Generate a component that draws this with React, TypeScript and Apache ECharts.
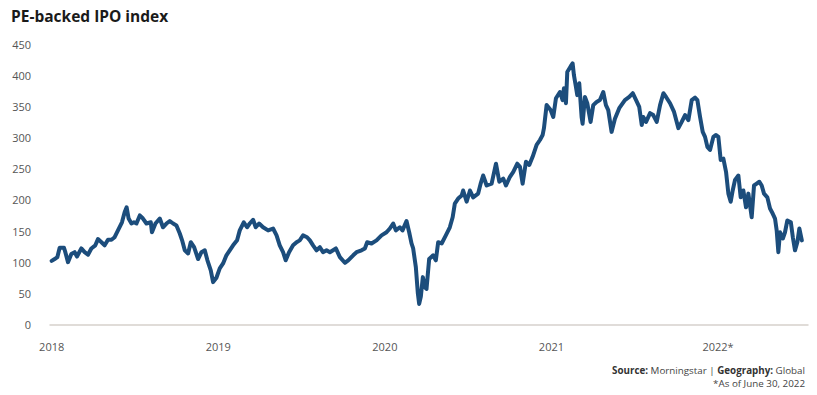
import React, { useEffect, useRef } from "react";
import * as echarts from "echarts";

// Decimal-year dates and index values
const t2018 = [2018.000, 2018.018, 2018.034, 2018.048, 2018.074, 2018.082, 2018.098, 2018.118, 2018.138, 2018.152, 2018.178, 2018.198, 2018.218, 2018.238, 2018.262, 2018.278, 2018.299, 2018.318, 2018.338, 2018.359, 2018.378, 2018.398, 2018.422, 2018.438, 2018.450, 2018.462, 2018.479, 2018.494, 2018.509, 2018.529, 2018.548, 2018.569, 2018.595, 2018.602, 2018.623, 2018.649, 2018.668, 2018.689, 2018.709, 2018.729, 2018.749, 2018.769, 2018.783, 2018.799, 2018.819, 2018.835, 2018.855, 2018.879, 2018.899, 2018.919, 2018.935, 2018.955, 2018.969, 2018.989];
const v2018 = [102, 105, 108, 123, 123, 116, 100, 113, 116, 109, 122, 116, 112, 122, 127, 137, 132, 127, 136, 136, 140, 151, 164, 180, 188, 170, 162, 164, 162, 175, 170, 162, 164, 148, 162, 170, 156, 162, 166, 162, 159, 146, 135, 119, 114, 132, 124, 105, 116, 119, 103, 87, 68, 75];

const t2019 = [2019.009, 2019.029, 2019.049, 2019.069, 2019.089, 2019.113, 2019.129, 2019.153, 2019.173, 2019.189, 2019.209, 2019.225, 2019.245, 2019.269, 2019.299, 2019.329, 2019.350, 2019.369, 2019.389, 2019.405, 2019.425, 2019.449, 2019.470, 2019.489, 2019.509, 2019.533, 2019.550, 2019.569, 2019.590, 2019.610, 2019.629, 2019.650, 2019.670, 2019.706, 2019.730, 2019.760, 2019.780, 2019.810, 2019.830, 2019.860, 2019.880, 2019.894, 2019.920, 2019.950, 2019.980];
const v2019 = [90, 98, 111, 119, 127, 135, 151, 164, 156, 162, 168, 156, 162, 156, 151, 154, 143, 127, 116, 103, 116, 127, 132, 135, 143, 140, 135, 127, 119, 124, 116, 119, 116, 122, 108, 99, 103, 111, 116, 119, 122, 132, 130, 135, 143];

const t2020 = [2020.010, 2020.030, 2020.050, 2020.066, 2020.090, 2020.106, 2020.130, 2020.146, 2020.160, 2020.170, 2020.186, 2020.198, 2020.206, 2020.216, 2020.228, 2020.240, 2020.250, 2020.266, 2020.290, 2020.306, 2020.320, 2020.341, 2020.366, 2020.390, 2020.407, 2020.420, 2020.440, 2020.461, 2020.470, 2020.491, 2020.511, 2020.530, 2020.560, 2020.575, 2020.590, 2020.611, 2020.641, 2020.667, 2020.687, 2020.711, 2020.727, 2020.751, 2020.771, 2020.795, 2020.811, 2020.827, 2020.847, 2020.867, 2020.887, 2020.911, 2020.931, 2020.947, 2020.955, 2020.971, 2020.995];
const v2020 = [148, 154, 162, 151, 156, 151, 166, 148, 130, 122, 92, 50, 33, 45, 76, 60, 57, 105, 111, 103, 132, 130, 143, 156, 172, 194, 202, 207, 215, 197, 215, 204, 210, 226, 239, 223, 226, 258, 229, 234, 223, 237, 245, 258, 253, 226, 261, 256, 269, 288, 296, 304, 315, 352, 344];

const t2021 = [2021.011, 2021.027, 2021.051, 2021.067, 2021.075, 2021.087, 2021.095, 2021.115, 2021.127, 2021.135, 2021.147, 2021.155, 2021.167, 2021.181, 2021.187, 2021.201, 2021.215, 2021.235, 2021.251, 2021.271, 2021.291, 2021.311, 2021.327, 2021.341, 2021.361, 2021.381, 2021.407, 2021.441, 2021.467, 2021.488, 2021.508, 2021.527, 2021.542, 2021.551, 2021.568, 2021.592, 2021.611, 2021.632, 2021.652, 2021.672, 2021.688, 2021.712, 2021.736, 2021.762, 2021.782, 2021.802, 2021.822, 2021.842, 2021.862, 2021.876, 2021.892, 2021.908, 2021.922, 2021.936, 2021.952, 2021.972, 2021.988];
const v2021 = [333, 363, 373, 360, 379, 355, 405, 414, 419, 400, 381, 368, 387, 333, 322, 365, 355, 325, 352, 357, 360, 373, 352, 344, 309, 330, 347, 360, 365, 371, 360, 349, 320, 333, 325, 339, 336, 325, 352, 371, 365, 355, 341, 315, 325, 336, 328, 360, 364, 360, 333, 309, 301, 285, 280, 301, 304];

const t2022 = [2022.002, 2022.016, 2022.032, 2022.048, 2022.062, 2022.076, 2022.088, 2022.102, 2022.122, 2022.136, 2022.152, 2022.168, 2022.182, 2022.202, 2022.216, 2022.232, 2022.248, 2022.262, 2022.276, 2022.296, 2022.312, 2022.328, 2022.342, 2022.352, 2022.362, 2022.372, 2022.389, 2022.402, 2022.416, 2022.437, 2022.449, 2022.462, 2022.476, 2022.488, 2022.503];
const v2022 = [301, 264, 266, 245, 210, 197, 215, 232, 239, 204, 215, 188, 210, 172, 223, 226, 229, 223, 210, 204, 186, 178, 170, 151, 116, 148, 138, 148, 167, 164, 140, 119, 132, 154, 135];

const yearTicks = [2018, 2019, 2020, 2021, 2022];
const yTicks = [0, 50, 100, 150, 200, 250, 300, 350, 400, 450];

const title = "PE-backed IPO index";

export default function App() {
  const ref = useRef<HTMLDivElement>(null);
  useEffect(() => {
    if (!ref.current) return;
    const chart = echarts.init(ref.current, null, { renderer: "svg" });
    const times = [...t2018, ...t2019, ...t2020, ...t2021, ...t2022];
    const vals = [...v2018, ...v2019, ...v2020, ...v2021, ...v2022];
    const data = times.map((t, i) => [t, vals[i]]);
    chart.setOption({
      animation: false,
      textStyle: { fontFamily: "Open Sans" },
      grid: { left: 50, right: 9, top: 44, height: 280.5 },
      xAxis: {
        type: "value",
        min: 2017.99,
        max: 2022.54,
        splitLine: { show: false },
        axisTick: { show: false },
        axisLine: { show: true, lineStyle: { color: "#d6d1cc", width: 1.5 } },
        axisLabel: {
          customValues: yearTicks,
          color: "#555",
          fontSize: 11,
          margin: 16,
          formatter: (v: number) => (v === 2022 ? "2022*" : String(v)),
        },
      },
      yAxis: {
        type: "value",
        min: 0,
        max: 450,
        interval: 50,
        splitLine: { show: false },
        axisLine: { show: false },
        axisTick: { show: false },
        axisLabel: {
          customValues: yTicks,
          color: "#555",
          fontSize: 11,
          margin: 19,
        },
      },
      series: [
        {
          type: "line",
          data,
          showSymbol: false,
          symbol: "none",
          lineStyle: { color: "#1c4d7c", width: 4, join: "round", cap: "round" },
        },
      ],
      graphic: [
        {
          type: "text",
          left: 11,
          top: 8,
          style: {
            text: title,
            font: "bold 15.5px 'Open Sans'",
            fill: "#1a1a1a",
          },
        },
        {
          type: "text",
          right: 12,
          top: 365,
          style: {
            text: "{b|Source:} Morningstar | {b|Geography:} Global",
            fill: "#444",
            font: "9.8px 'Open Sans'",
            rich: {
              b: { fontWeight: "bold", fontSize: 9.8, fontFamily: "Open Sans", fill: "#333", color: "#333" },
            },
          },
        },
        {
          type: "text",
          right: 12,
          top: 378,
          style: {
            text: "*As of June 30, 2022",
            fill: "#444",
            font: "9.8px 'Open Sans'",
          },
        },
      ],
    });
    return () => chart.dispose();
  }, []);
  return (
    <div
      ref={ref}
      style={{ position: "fixed", left: 0, top: 0, width: 817, height: 395, background: "#fff" }}
    />
  );
}
